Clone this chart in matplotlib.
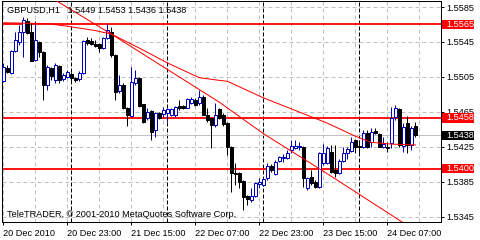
import matplotlib
matplotlib.use("Agg")
import matplotlib.pyplot as plt
from matplotlib.patches import Rectangle
from matplotlib.transforms import blended_transform_factory
import numpy as np
import pandas as pd

# ---------------- data (GBPUSD, H1) ----------------
symbol = "GBPUSD,H1"
start_time = "2010-12-20 07:00"

opens = [1.5500, 1.5515, 1.5509, 1.5535, 1.5545, 1.5556, 1.5569, 1.5556, 1.5524, 1.5545,
         1.5533, 1.5496, 1.5515, 1.5501, 1.5517, 1.5503, 1.5505, 1.5508, 1.5504, 1.5503,
         1.5509, 1.5547, 1.5546, 1.5543, 1.5543, 1.5538, 1.5550, 1.5556, 1.5530, 1.5489,
         1.5496, 1.5469, 1.5460, 1.5498, 1.5504, 1.5474, 1.5458, 1.5466, 1.5444, 1.5464,
         1.5463, 1.5464, 1.5461, 1.5461, 1.5472, 1.5472, 1.5469, 1.5475, 1.5479, 1.5475,
         1.5482, 1.5461, 1.5458, 1.5450, 1.5468, 1.5461, 1.5452, 1.5425, 1.5395, 1.5395,
         1.5386, 1.5369, 1.5364, 1.5369, 1.5382, 1.5381, 1.5389, 1.5403, 1.5394, 1.5409,
         1.5412, 1.5412, 1.5421, 1.5424, 1.5425, 1.5425, 1.5378, 1.5390, 1.5385, 1.5379,
         1.5406, 1.5406, 1.5419, 1.5398, 1.5395, 1.5409, 1.5418, 1.5420, 1.5433, 1.5426,
         1.5425, 1.5441, 1.5430, 1.5443, 1.5440, 1.5425, 1.5425, 1.5429, 1.5459, 1.5468,
         1.5426, 1.5452, 1.5427, 1.5449]
highs = [1.5521, 1.5519, 1.5536, 1.5556, 1.5564, 1.5574, 1.5572, 1.5567, 1.5569, 1.5546,
         1.5535, 1.5519, 1.5516, 1.5521, 1.5519, 1.5509, 1.5513, 1.5511, 1.5505, 1.5512,
         1.5547, 1.5551, 1.5550, 1.5547, 1.5544, 1.5551, 1.5566, 1.5562, 1.5531, 1.5507,
         1.5498, 1.5471, 1.5516, 1.5513, 1.5505, 1.5474, 1.5469, 1.5467, 1.5465, 1.5465,
         1.5471, 1.5469, 1.5469, 1.5472, 1.5479, 1.5473, 1.5481, 1.5482, 1.5481, 1.5490,
         1.5484, 1.5469, 1.5459, 1.5475, 1.5469, 1.5464, 1.5453, 1.5426, 1.5406, 1.5396,
         1.5387, 1.5370, 1.5378, 1.5385, 1.5389, 1.5390, 1.5406, 1.5405, 1.5410, 1.5414,
         1.5417, 1.5421, 1.5433, 1.5433, 1.5430, 1.5426, 1.5390, 1.5398, 1.5387, 1.5419,
         1.5428, 1.5426, 1.5427, 1.5427, 1.5411, 1.5425, 1.5425, 1.5436, 1.5434, 1.5433,
         1.5444, 1.5444, 1.5446, 1.5446, 1.5441, 1.5436, 1.5430, 1.5471, 1.5473, 1.5469,
         1.5452, 1.5460, 1.5449, 1.5453]
lows = [1.5499, 1.5509, 1.5508, 1.5533, 1.5542, 1.5528, 1.5554, 1.5523, 1.5523, 1.5528,
        1.5479, 1.5490, 1.5501, 1.5498, 1.5498, 1.5500, 1.5504, 1.5498, 1.5499, 1.5500,
        1.5508, 1.5542, 1.5542, 1.5539, 1.5533, 1.5537, 1.5548, 1.5528, 1.5479, 1.5487,
        1.5468, 1.5449, 1.5459, 1.5496, 1.5471, 1.5452, 1.5456, 1.5433, 1.5436, 1.5457,
        1.5459, 1.5453, 1.5460, 1.5459, 1.5467, 1.5468, 1.5469, 1.5474, 1.5472, 1.5473,
        1.5461, 1.5453, 1.5424, 1.5448, 1.5457, 1.5449, 1.5416, 1.5373, 1.5381, 1.5378,
        1.5352, 1.5358, 1.5362, 1.5368, 1.5378, 1.5380, 1.5387, 1.5396, 1.5393, 1.5408,
        1.5408, 1.5411, 1.5418, 1.5422, 1.5421, 1.5379, 1.5376, 1.5381, 1.5378, 1.5378,
        1.5404, 1.5405, 1.5395, 1.5390, 1.5394, 1.5408, 1.5411, 1.5419, 1.5418, 1.5417,
        1.5424, 1.5424, 1.5425, 1.5440, 1.5425, 1.5424, 1.5419, 1.5424, 1.5456, 1.5425,
        1.5419, 1.5418, 1.5421, 1.5436]
closes = [1.5516, 1.5511, 1.5535, 1.5547, 1.5556, 1.5570, 1.5555, 1.5523, 1.5547, 1.5533,
          1.5496, 1.5516, 1.5506, 1.5519, 1.5501, 1.5507, 1.5511, 1.5504, 1.5501, 1.5509,
          1.5546, 1.5544, 1.5543, 1.5540, 1.5538, 1.5550, 1.5559, 1.5530, 1.5488, 1.5496,
          1.5469, 1.5461, 1.5499, 1.5504, 1.5472, 1.5453, 1.5465, 1.5442, 1.5464, 1.5458,
          1.5467, 1.5468, 1.5468, 1.5471, 1.5469, 1.5469, 1.5480, 1.5480, 1.5473, 1.5482,
          1.5461, 1.5456, 1.5450, 1.5461, 1.5458, 1.5451, 1.5425, 1.5395, 1.5394, 1.5385,
          1.5368, 1.5365, 1.5369, 1.5384, 1.5385, 1.5388, 1.5403, 1.5398, 1.5408, 1.5413,
          1.5413, 1.5418, 1.5426, 1.5426, 1.5426, 1.5389, 1.5389, 1.5384, 1.5379, 1.5418,
          1.5418, 1.5424, 1.5396, 1.5395, 1.5409, 1.5418, 1.5422, 1.5430, 1.5425, 1.5425,
          1.5441, 1.5425, 1.5442, 1.5441, 1.5425, 1.5428, 1.5424, 1.5458, 1.5469, 1.5427,
          1.5448, 1.5427, 1.5446, 1.5438]

# slow moving average (bar index, price)
ma_bars = [0, 11, 16, 23, 27, 34, 41, 49, 54, 56, 65, 81, 88, 92, 97, 103]
ma_vals = [1.5567, 1.5566, 1.5563, 1.5558, 1.5554, 1.5538, 1.5521, 1.5504, 1.5501, 1.5500,
           1.5481, 1.5452, 1.5437, 1.5430, 1.5428, 1.5427]
# falling trend line (bar index, price)
trend_bars = [9, 27, 54, 65, 81, 104]
trend_vals = [1.5604, 1.5554, 1.5476, 1.5440, 1.5394, 1.5326]

# horizontal levels
levels = [1.5565, 1.5458, 1.5400]
price_ticks = [1.5345, 1.5385, 1.5425, 1.5465, 1.5505, 1.5545, 1.5585]
copyright_text = "TeleTRADER, \u00a9 2001-2010 MetaQuotes Software Corp."

# ---------------- style ----------------
FONT = "Liberation Sans"
FS = 6.6
BULL = "#0000B4"
BEAR = "#000000"
GRID = "#C0C0C0"
RED = "#FF0000"
PX = 0.72  # one pixel in points at 100 dpi

plt.rcParams["font.family"] = [FONT, "DejaVu Sans"]

times = pd.date_range(start_time, periods=len(opens), freq="h")
x = np.arange(len(opens))
o = np.array(opens); h = np.array(highs); l = np.array(lows); c = np.array(closes)

fig = plt.figure(figsize=(4.8, 2.4), dpi=100)
fig.patch.set_facecolor("white")
ax = fig.add_axes([2 / 480, 18 / 240, 439 / 480, 221 / 240])
ax.set_xlim(-0.33, 109.4)
ax.set_ylim(1.53388, 1.55919)

# grid
for v in range(0, 110, 8):
    ax.axvline(v, color=GRID, lw=PX, ls=(0, (4, 3)), zorder=0)
for t in price_ticks:
    ax.axhline(t, color=GRID, lw=PX, ls=(0, (4, 3)), zorder=0)
# day separators
for i, t in enumerate(times):
    if t.hour == 0:
        ax.axvline(i, color="black", lw=PX, ls=(0, (4, 2)), zorder=0.6)

# bid line
ax.axhline(c[-1], color=GRID, lw=PX, zorder=0.7)
# horizontal levels
for lv in levels:
    ax.axhline(lv, color=RED, lw=1.3, zorder=1)

# candles
bull = c >= o
wick_colors = [BULL if b else BEAR for b in bull]
ax.vlines(x, l, h, colors=wick_colors, lw=PX, zorder=2)
body_bottom = np.minimum(o, c)
body_height = np.maximum(np.abs(c - o), 0.00002)
ax.bar(x[bull], body_height[bull], bottom=body_bottom[bull], width=0.62,
       facecolor="white", edgecolor=BULL, lw=PX, zorder=3)
ax.bar(x[~bull], body_height[~bull], bottom=body_bottom[~bull], width=0.62,
       facecolor=BEAR, edgecolor=BEAR, lw=PX, zorder=3)

# indicator lines
ax.plot(ma_bars, ma_vals, color=RED, lw=PX, zorder=4)
ax.plot(trend_bars, trend_vals, color=RED, lw=PX, zorder=4)

# axes styling
for s in ax.spines.values():
    s.set_linewidth(PX)
    s.set_color("black")
ax.yaxis.tick_right()
ax.set_yticks(price_ticks)
ax.set_yticklabels([f"{t:.4f}" for t in price_ticks])
tick_idx = list(range(0, len(times), 16))
ax.set_xticks(tick_idx)
xlabels = []
for k in tick_idx:
    t = times[k]
    xlabels.append(t.strftime("%d %b %Y") if k == 0 else t.strftime("%d %b %H:%M"))
ax.set_xticklabels(xlabels)
for lbl in ax.get_xticklabels():
    lbl.set_horizontalalignment("left")
ax.tick_params(axis="both", direction="out", length=2.2, width=PX, colors="black",
               labelsize=FS, pad=1.8)
ax.tick_params(axis="x", pad=2.5)

# right-side price boxes
trans = blended_transform_factory(ax.transAxes, ax.transData)
ax_h_px = 221
px_to_price = (ax.get_ylim()[1] - ax.get_ylim()[0]) / ax_h_px
box_h = 9.5 * px_to_price
for lv, col in [(levels[0], RED), (levels[1], RED), (levels[2], RED), (c[-1], "black")]:
    ax.add_patch(Rectangle((1.0016, lv - box_h / 2), 0.0736, box_h, transform=trans,
                           facecolor=col, edgecolor="none", clip_on=False, zorder=6))
    ax.text(1.0125, lv, f"{lv:.4f}", transform=trans, ha="left", va="center",
            color="white", fontsize=FS, clip_on=False, zorder=7)

# texts
ax.text(0.0114, 0.957,
        f"{symbol}   {o[-1]:.4f} {h[-1]:.4f} {l[-1]:.4f} {c[-1]:.4f}",
        transform=ax.transAxes, ha="left", va="center", fontsize=FS, color="black", zorder=8)
ax.text(0.0114, 0.036, copyright_text, transform=ax.transAxes, ha="left", va="center",
        fontsize=FS, color="black", zorder=8)

fig.savefig("out.png", dpi=100, facecolor="white")
